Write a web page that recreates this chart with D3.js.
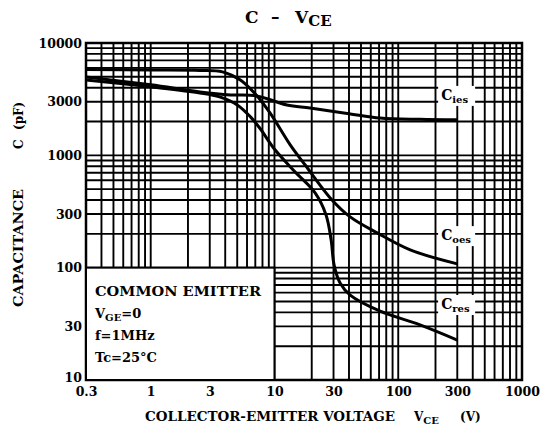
<!DOCTYPE html>
<html><head><meta charset="utf-8">
<script src="https://cdn.jsdelivr.net/npm/d3@7"></script>
<style>
body{margin:0;background:#fff}
svg{display:block}
text{font-family:"DejaVu Serif","Liberation Serif",serif;font-weight:bold;fill:#000;white-space:pre}
</style>
</head><body><svg id="c" width="540" height="435"></svg>
<script>
// ---- data ----
const xTicks = [0.3, 1, 3, 10, 30, 100, 300, 1000];
const yTicks = [10, 30, 100, 300, 1000, 3000, 10000];

const ciesV = [0.3, 1.0, 2.5, 4.4, 7.2, 12.6, 19.4, 40, 71.4, 150, 300];
const ciesC = [4990, 4240, 3670, 3450, 3380, 2810, 2640, 2350, 2150, 2090, 2070];

const coesV = [0.3, 1.0, 2.5, 3.8, 5.3, 7.0, 9.2, 13.4, 17.7, 28.2, 40.9, 67.6, 125, 300];
const coesC = [5800, 5750, 5700, 5530, 4690, 3520, 2390, 1240, 820, 418, 283, 204, 144, 108];

const cresV = [0.3, 1.0, 2.5, 3.6, 5.0, 6.4, 7.6, 10.1, 14.7, 21.3, 26.1, 28.7, 30.3, 33.9, 40.9, 71.4, 150, 300];
const cresC = [4690, 4070, 3590, 3310, 2810, 2200, 1750, 1120, 711, 463, 295, 176, 106, 73, 57, 41, 31, 22.7];

const seriesNames = ["ies", "oes", "res"];
const labelV = [218, 218, 218];
const labelC = [3380, 191, 46.5];

const legendLines = ["COMMON EMITTER", "V|GE|=0", "f=1MHz", "Tc=25°C"];

// ---- chart ----
const svg = d3.select("#c");
const x = d3.scaleLog().domain([0.3, 1000]).range([86, 522]);
const y = d3.scaleLog().domain([10, 10000]).range([380, 43]);

// grid
const g = svg.append("g");
g.selectAll("line.vx").data(x.ticks()).enter().append("line")
  .attr("x1", d => x(d)).attr("x2", d => x(d)).attr("y1", y(10000)).attr("y2", y(10))
  .attr("stroke", "#000").attr("stroke-width", 1.9);
g.selectAll("line.hy").data(y.ticks()).enter().append("line")
  .attr("y1", d => y(d)).attr("y2", d => y(d)).attr("x1", x(0.3)).attr("x2", x(1000))
  .attr("stroke", "#000").attr("stroke-width", 1.9);
svg.append("rect").attr("x", x(0.3)).attr("y", y(10000))
  .attr("width", x(1000) - x(0.3)).attr("height", y(10) - y(10000))
  .attr("fill", "none").attr("stroke", "#000").attr("stroke-width", 2.5);

// legend box
svg.append("rect").attr("x", x(0.3)).attr("y", y(100))
  .attr("width", x(10) - x(0.3)).attr("height", y(10) - y(100))
  .attr("fill", "#fff").attr("stroke", "#000").attr("stroke-width", 2);

// curves
const line = d3.line().x(d => x(d[0])).y(d => y(d[1])).curve(d3.curveCatmullRom.alpha(0.5));
const series = [d3.zip(ciesV, ciesC), d3.zip(coesV, coesC), d3.zip(cresV, cresC)];
svg.selectAll("path.s").data(series).enter().append("path")
  .attr("d", line).attr("fill", "none").attr("stroke", "#000").attr("stroke-width", 3);

// curve labels
seriesNames.forEach((n, i) => {
  const cx = x(labelV[i]), cy = y(labelC[i]);
  svg.append("rect").attr("x", cx - 2).attr("y", cy - 10).attr("width", 37).attr("height", 20).attr("fill", "#fff");
  const t = svg.append("text").attr("x", cx + 1).attr("y", cy + 4).attr("font-size", 14);
  t.append("tspan").text("C");
  t.append("tspan").attr("font-size", 10).attr("dy", 3).text(n);
});

// axes tick labels
const ax = d3.axisBottom(x).tickValues(xTicks).tickSize(0).tickPadding(7).tickFormat(d => String(d));
const gx = svg.append("g").attr("transform", `translate(0,${y(10)})`).call(ax);
gx.select(".domain").remove();
gx.selectAll("text").attr("font-size", 12.5).style("font-family", null);

const ay = d3.axisLeft(y).tickValues(yTicks).tickSize(0).tickPadding(4).tickFormat(d => String(d));
const gy = svg.append("g").attr("transform", `translate(${x(0.3)},0)`).call(ay);
gy.select(".domain").remove();
gy.selectAll("text").attr("font-size", 12.5).style("font-family", null);
gy.selectAll(".tick").filter(d => d === 10).select("text").attr("dy", "0.1em");

// title
const tt = svg.append("text").attr("y", 23).attr("font-size", 17);
tt.append("tspan").attr("x", 245).text("C");
tt.append("tspan").attr("x", 271).text("–");
tt.append("tspan").attr("x", 295).text("V");
tt.append("tspan").attr("font-size", 15).attr("dy", 3).text("CE");

// axis titles
const xt = svg.append("text").attr("x", 145).attr("y", 421).attr("font-size", 12);
xt.append("tspan").text("COLLECTOR-EMITTER VOLTAGE").attr("textLength", 250).attr("lengthAdjust", "spacingAndGlyphs");
xt.append("tspan").attr("x", 414).text("V");
xt.append("tspan").attr("font-size", 10).attr("dy", 3).text("CE");
xt.append("tspan").attr("x", 460).attr("dy", -3).text("(V)");

const yt = svg.append("text").attr("transform", "translate(23,307) rotate(-90)").attr("font-size", 12);
yt.append("tspan").attr("x", 0).text("CAPACITANCE").attr("textLength", 118).attr("lengthAdjust", "spacingAndGlyphs");
yt.append("tspan").attr("x", 158).text("C");
yt.append("tspan").attr("x", 177).text("(pF)");

// legend text
const ly = [296, 318, 340, 362];
legendLines.forEach((s, i) => {
  const t = svg.append("text").attr("x", 95).attr("y", ly[i]).attr("font-size", 13);
  if (s.includes("|")) {
    const p = s.split("|");
    t.append("tspan").text(p[0]);
    t.append("tspan").attr("font-size", 10).attr("dy", 3).text(p[1]);
    t.append("tspan").attr("dy", -3).text(p[2]);
  } else {
    t.text(s);
    if (i === 0) t.attr("textLength", 166).attr("lengthAdjust", "spacingAndGlyphs");
  }
});
</script>
</body></html>
